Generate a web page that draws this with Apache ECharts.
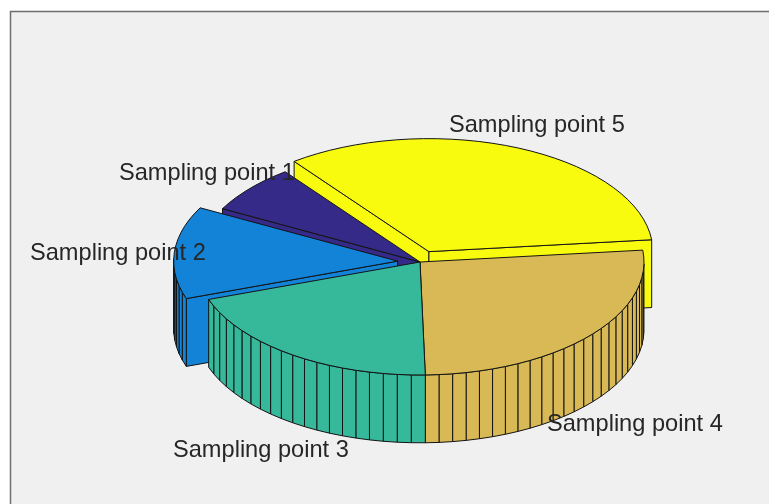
<!DOCTYPE html>
<html>
<head>
<meta charset="utf-8">
<style>
  html, body { margin: 0; padding: 0; background: #ffffff; }
  #chart { width: 769px; height: 504px; }
</style>
<script src="https://cdn.jsdelivr.net/npm/echarts@6/dist/echarts.min.js"></script>
</head>
<body>
<div id="chart"></div>
<script>
// Sampling point shares (percent), going anticlockwise on screen from the first wedge.
const categories = ['Sampling point 1', 'Sampling point 2', 'Sampling point 3', 'Sampling point 4', 'Sampling point 5'];
const shares = [6.9, 13.2, 20.0, 26.3, 33.6];
const explode = [0, 1, 0, 0, 1];
const colors = ['#352a87', '#1283d6', '#36b89b', '#d8b955', '#f9fb0e'];

// Back-to-front drawing sequence for the wedges.
const paintOrder = [4, 0, 1, 3, 2];
// Label anchors: left edge and vertical middle, in pixels.
const labelAnchors = [[119, 173], [30, 253], [173, 450], [547, 424], [449, 125]];

// View of the pie: first wedge starts here, thickness and explode distance in radius units.
const startAngle = 233;
const thickness = 0.6;
const explodeDistance = 0.1;
const facetsPerTurn = 100;

const total = shares.reduce((a, b) => a + b, 0);
let running = startAngle;
const wedges = shares.map((v, i) => {
  const span = v / total * 360;
  const wedge = { to: running, from: running - span, n: Math.max(1, Math.ceil(facetsPerTurn * v / total)) };
  running -= span;
  return wedge;
});

const rad = d => d * Math.PI / 180;

function renderWedge(params, api) {
  const i = api.value(0);
  const w = wedges[i];
  const mid = rad((w.from + w.to) / 2);
  const ox = explode[i] * explodeDistance * Math.cos(mid);
  const oy = explode[i] * explodeDistance * -Math.sin(mid);
  const rim = (deg, z) => api.coord([ox + Math.cos(rad(deg)), oy - Math.sin(rad(deg)) - z]);
  const apex = z => api.coord([ox, oy - z]);
  const style = { fill: colors[i], stroke: '#141414', lineWidth: 1, lineJoin: 'round' };
  const poly = points => ({ type: 'polygon', shape: { points }, style });
  const children = [];

  // Cut faces that look towards the viewer.
  [w.from, w.to].forEach((deg, k) => {
    const c = Math.cos(rad(deg));
    if ((k === 0 && c < 0) || (k === 1 && c > 0)) {
      children.push(poly([apex(0), rim(deg, 0), rim(deg, thickness), apex(thickness)]));
    }
  });

  // Outer wall, one quad per facet; the far side stays hidden.
  const step = (w.to - w.from) / w.n;
  for (let k = 0; k < w.n; k++) {
    const a = w.from + k * step;
    const b = a + step;
    if (Math.sin(rad((a + b) / 2)) > 0) {
      children.push(poly([rim(a, 0), rim(b, 0), rim(b, thickness), rim(a, thickness)]));
    }
  }

  // Top face.
  const top = [apex(0)];
  for (let k = 0; k <= w.n; k++) top.push(rim(w.from + k * step, 0));
  children.push(poly(top));

  return { type: 'group', children };
}

const chart = echarts.init(document.getElementById('chart'), null, { renderer: 'canvas' });

// Axes are in radius units, hidden; 224 px per unit across, 113 px per unit down.
const cx = 420, cy = 262, pxX = 224, pxY = 113;

chart.setOption({
  animation: false,
  backgroundColor: '#ffffff',
  grid: { left: 0, right: 0, top: 0, bottom: 0, containLabel: false },
  xAxis: { type: 'value', show: false, min: -cx / pxX, max: (769 - cx) / pxX },
  yAxis: { type: 'value', show: false, min: -(504 - cy) / pxY, max: cy / pxY, inverse: false },
  graphic: [
    {
      type: 'rect', z: -10, silent: true,
      shape: { x: 10.5, y: 11.5, width: 800, height: 540 },
      style: { fill: '#f0f0f0', stroke: '#6e6e6e', lineWidth: 1.5 }
    }
  ].concat(categories.map((name, i) => ({
    type: 'text', z: 100, silent: true,
    x: labelAnchors[i][0], y: labelAnchors[i][1],
    style: {
      text: name, fill: '#262626', textAlign: 'left', textVerticalAlign: 'middle',
      font: '23.6px "Liberation Sans", Arial, sans-serif'
    }
  }))),
  series: [{
    type: 'custom',
    coordinateSystem: 'cartesian2d',
    silent: true,
    clip: false,
    renderItem: renderWedge,
    encode: { x: 1, y: 2 },
    data: paintOrder.map(i => [i, 0, 0])
  }]
});
</script>
</body>
</html>
